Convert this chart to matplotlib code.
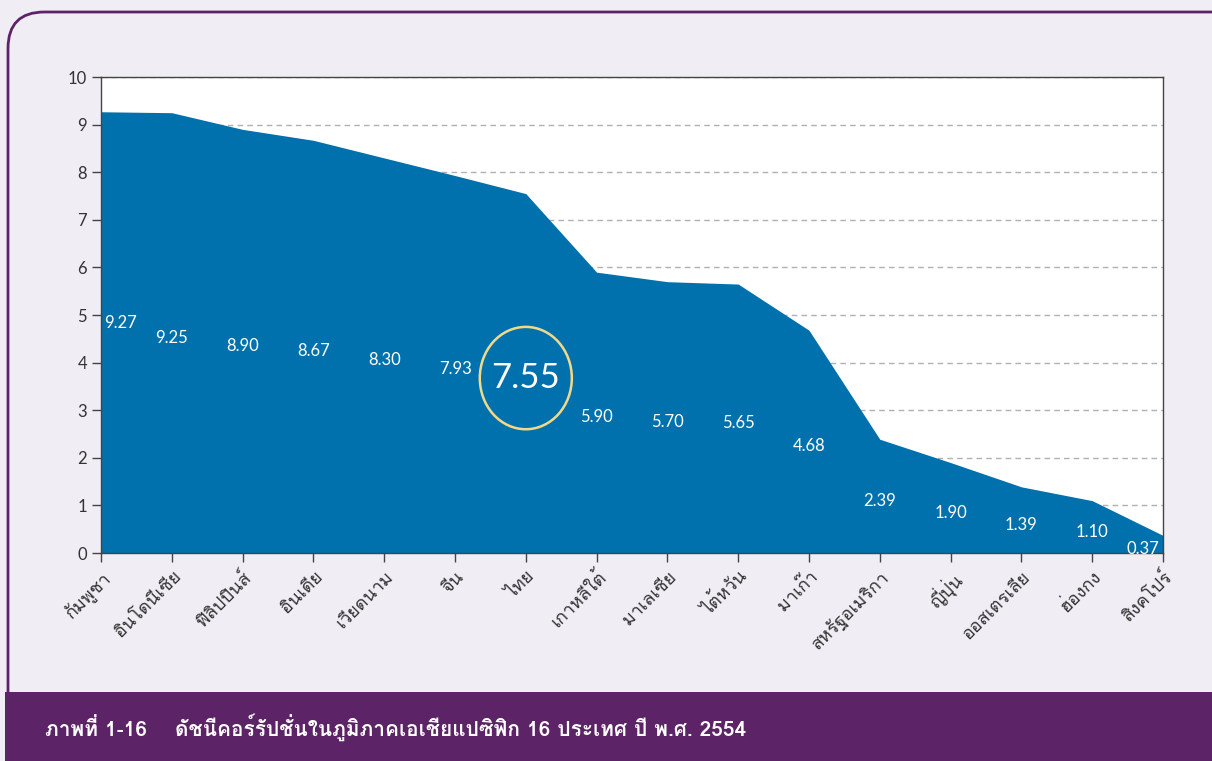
import matplotlib
matplotlib.use("Agg")
import matplotlib.pyplot as plt
from matplotlib import font_manager
from matplotlib.ft2font import FT2Font
from matplotlib.patches import FancyBboxPatch, Rectangle, Ellipse
import numpy as np

countries = ["กัมพูชา", "อินโดนีเซีย", "ฟิลิปปินส์", "อินเดีย", "เวียดนาม", "จีน", "ไทย",
             "เกาหลีใต้", "มาเลเซีย", "ไต้หวัน", "มาเก๊า", "สหรัฐอเมริกา", "ญี่ปุ่น",
             "ออสเตรเลีย", "ฮ่องกง", "สิงคโปร์"]
scores = [9.27, 9.25, 8.90, 8.67, 8.30, 7.93, 7.55, 5.90, 5.70, 5.65, 4.68,
          2.39, 1.90, 1.39, 1.10, 0.37]
highlight = "ไทย"
caption = "ภาพที่ 1-16    ดัชนีคอร์รัปชั่นในภูมิภาคเอเชียแปซิฟิก 16 ประเทศ ปี พ.ศ. 2554"


# pick any installed family that carries Thai glyphs
def thai_family():
    for f in font_manager.fontManager.ttflist:
        try:
            if 0x0E01 in FT2Font(f.fname).get_charmap():
                return f.name
        except Exception:
            pass
    return None


thai = thai_family()
fams = ([thai] if thai else []) + ["Lato", "DejaVu Sans"]
plt.rcParams["font.family"] = fams
num_font = ["Lato", "DejaVu Sans"]

bg = "#f0edf4"
purple = "#5c2466"
blue = "#0071ad"

fig = plt.figure(figsize=(12.12, 7.61), dpi=100)
fig.patch.set_facecolor(bg)

# rounded frame and caption band, kept behind the axes
frame = FancyBboxPatch((8 / 1212, 0.0), 1.2, 1 - 12 / 761,
                       boxstyle="round,pad=0,rounding_size=0.03",
                       transform=fig.transFigure, facecolor=bg,
                       edgecolor=purple, linewidth=2, mutation_aspect=1212 / 761,
                       zorder=-3)
fig.patches.append(frame)
band = Rectangle((5 / 1212, 0), 1.0, 69 / 761, transform=fig.transFigure,
                 facecolor=purple, edgecolor="none", zorder=-2)
fig.patches.append(band)
fig.text(45 / 1212, 34 / 761, caption, color="white", fontsize=15,
         fontweight="bold", va="center", ha="left")

ax = fig.add_axes([101 / 1212, 1 - 553 / 761, 1062 / 1212, 476 / 761])
ax.set_facecolor("white")

x = np.arange(len(scores))
ax.fill_between(x, scores, 0, color=blue, linewidth=0, zorder=2)

ax.set_xlim(0, len(scores) - 1)
ax.set_ylim(0, 10)
ax.set_yticks(range(0, 11))
ax.set_xticks(x)
ax.set_xticklabels(countries, rotation=45, ha="right", rotation_mode="anchor",
                   fontsize=13, color="#333333")
ax.tick_params(axis="y", labelsize=12, labelcolor="#333333", length=6.5,
               width=1, color="#444444")
for lbl in ax.get_yticklabels():
    lbl.set_family(num_font)
ax.tick_params(axis="x", length=6.5, width=1, color="#444444", pad=4)
ax.grid(axis="y", linestyle=(0, (4, 3)), color="#b0b0b0", linewidth=1, zorder=1)
ax.set_axisbelow(True)
for s in ax.spines.values():
    s.set_color("#444444")
    s.set_linewidth(1)

# value labels inside the filled area
for i, v in enumerate(scores):
    ypos = v * 0.5 - 0.1
    if countries[i] == highlight:
        ax.text(i, ypos, f"{v:.2f}", color="white", fontsize=25, family=num_font,
                ha="center", va="center", zorder=4)
        ax.add_patch(Ellipse((i, ypos), 1.3, 2.15, facecolor="none",
                             edgecolor="#f2d98a", linewidth=1.8, zorder=4))
        continue
    ha = "center"
    xi = i
    if i == 0:
        ha, xi = "left", i + 0.05
        ypos += 0.3
    elif i == len(scores) - 1:
        ha, xi = "right", i - 0.05
    ax.text(xi, ypos, f"{v:.2f}", color="white", fontsize=12, family=num_font,
            ha=ha, va="center", zorder=4)

fig.savefig("out.png", dpi=100, facecolor=bg)
